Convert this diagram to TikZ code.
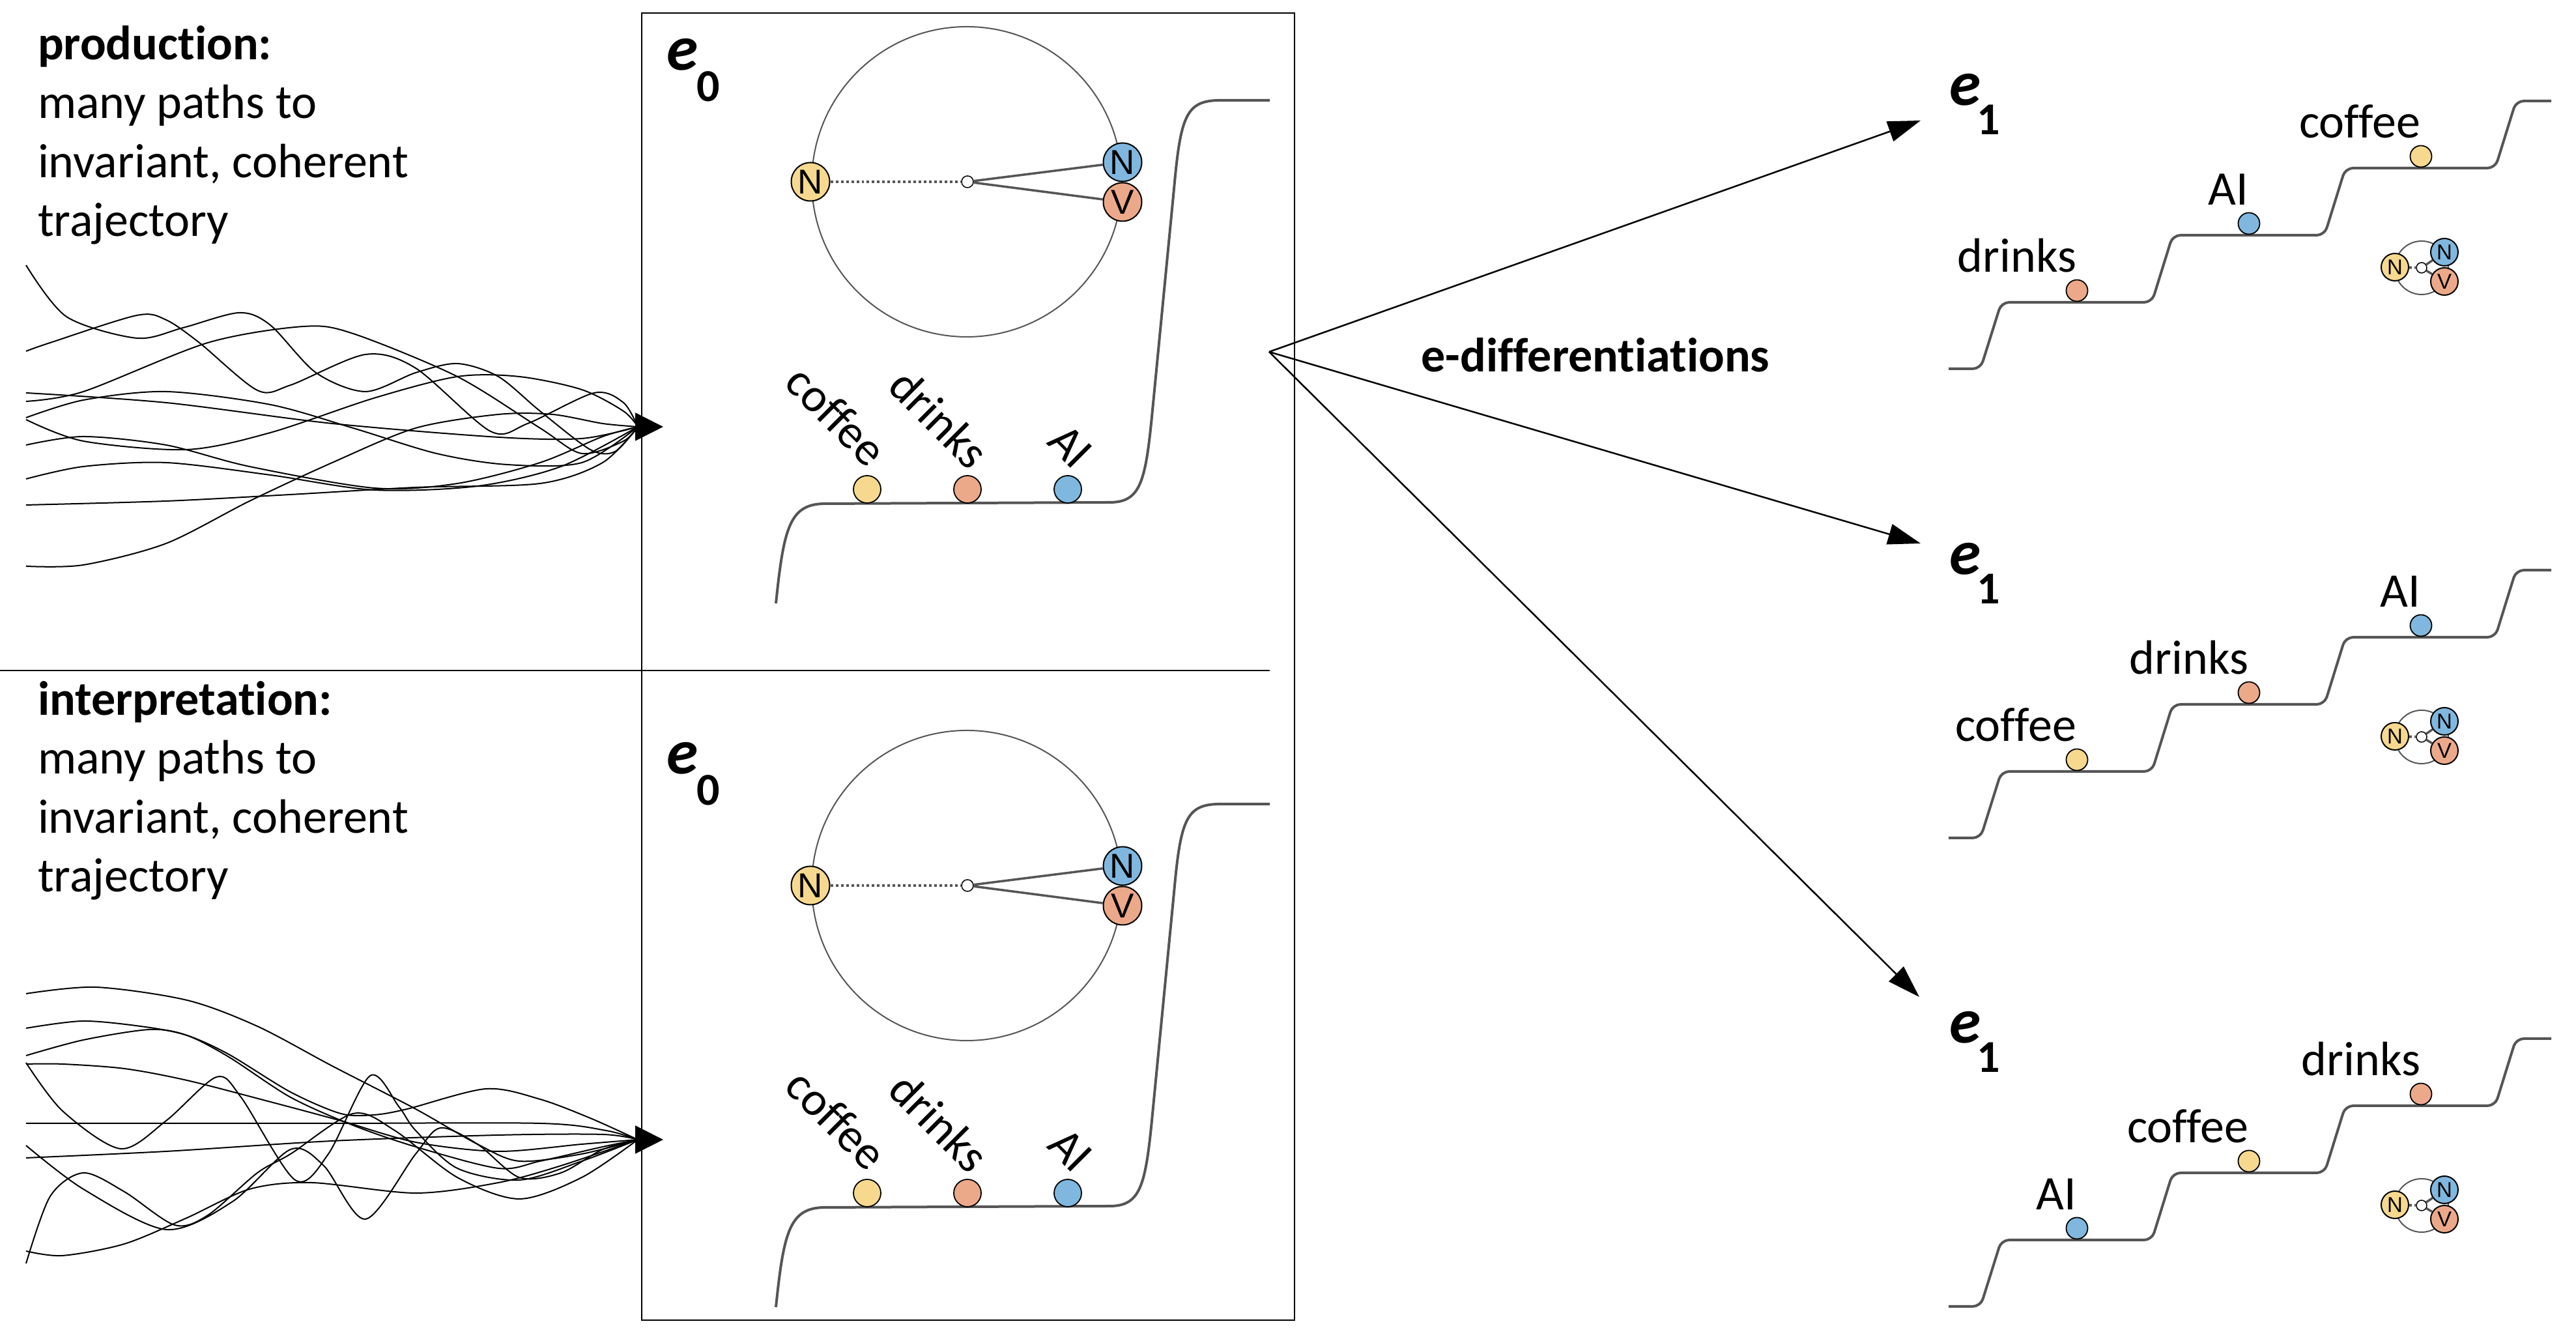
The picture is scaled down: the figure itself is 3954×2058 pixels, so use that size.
\documentclass[tikz,border=0pt]{standalone}
\usepackage{fontspec}
\setmainfont{Carlito}[Ligatures=NoCommon]
\newfontfamily\nvfont{Liberation Sans}
\usetikzlibrary{arrows.meta}
\definecolor{cy}{RGB}{246,217,142}
\definecolor{cb}{RGB}{127,183,222}
\definecolor{co}{RGB}{236,169,138}
\definecolor{lg}{RGB}{85,85,85}
\begin{document}
\begin{tikzpicture}[x=0.1pt,y=-0.1pt,
  traj/.style={line width=0.2pt, black},
  frame/.style={line width=0.2pt, black},
  curveline/.style={line width=0.4pt, lg},
  ring/.style={line width=0.2pt, lg},
  ball/.style={circle, draw=black, line width=0.18pt, minimum size=4.2pt, inner sep=0pt},
  sball/.style={ball, minimum size=3.3pt},
  nv/.style={circle, draw=black, line width=0.2pt, minimum size=5.9pt, inner sep=0pt, font=\nvfont\fontsize{5.3}{6}\selectfont},
  snv/.style={nv, minimum size=4.2pt, font=\nvfont\fontsize{3.3}{4}\selectfont},
  hub/.style={circle, draw=black, fill=white, line width=0.15pt, minimum size=1.8pt, inner sep=0pt},
  link/.style={line width=0.35pt, lg},
  dotlink/.style={line width=0.35pt, lg, dash pattern=on 0.4pt off 0.4pt},
  lbl/.style={font=\fontsize{7.4}{9.05}\selectfont, inner sep=0pt},
  rlbl/.style={font=\fontsize{7.3}{8}\selectfont, inner sep=0pt, rotate=-45},
  ee/.style={font=\fontsize{9.8}{10}\selectfont\bfseries\itshape, inner sep=0pt, anchor=base west},
  esub/.style={font=\fontsize{7}{8}\selectfont\bfseries, inner sep=0pt, anchor=base west},
  arr/.style={line width=0.25pt, -{Triangle[length=5pt,width=3.2pt]}},
  conv/.style={line width=0.2pt, -{Triangle[length=4.3pt,width=4.3pt]}},
]
\path[use as bounding box] (0,0) rectangle (3954,2058);

% frame and divider
\draw[frame] (985,20) rectangle (1987,2026);
\draw[frame] (0,1029) -- (1949,1029);

% left texts (anchored at the baseline of the last line)
\node[lbl, anchor=base west, align=left] (prod) at (56,363) {\textbf{production:}\\many paths to\\invariant, coherent\\trajectory};
\node[lbl, anchor=base west, align=left] (interp) at (56,1369) {\textbf{interpretation:}\\many paths to\\invariant, coherent\\trajectory};

% production trajectories
\draw[traj] plot[smooth] coordinates {(40,407) (102,486) (210,519) (281,503) (367,480) (415,499) (485,572) (561,601) (638,572) (702,558) (765,578) (829,631) (906,690) (944,693) (979,655)};
\draw[traj] plot[smooth] coordinates {(40,539) (77,526) (210,484) (255,491) (306,526) (395,599) (446,591) (561,544) (638,565) (753,662) (810,650) (912,603) (957,618) (979,655)};
\draw[traj] plot[smooth] coordinates {(40,616) (128,601) (319,526) (466,501) (542,512) (702,578) (829,657) (893,696) (957,677) (979,655)};
\draw[traj] plot[smooth] coordinates {(40,603) (255,618) (510,650) (765,671) (893,673) (979,655)};
\draw[traj] plot[smooth] coordinates {(40,641) (128,614) (255,601) (415,621) (542,657) (670,696) (778,713) (893,710) (979,655)};
\draw[traj] plot[smooth] coordinates {(40,644) (128,677) (287,690) (415,664) (574,611) (702,578) (797,578) (893,598) (957,631) (979,655)};
\draw[traj] plot[smooth] coordinates {(40,683) (128,670) (255,683) (383,716) (574,749) (702,742) (829,710) (925,670) (979,655)};
\draw[traj] plot[smooth] coordinates {(40,735) (128,716) (255,710) (415,729) (574,752) (733,746) (861,716) (979,655)};
\draw[traj] plot[smooth] coordinates {(40,775) (255,769) (446,759) (638,748) (829,742) (925,710) (979,655)};
\draw[traj] plot[smooth] coordinates {(40,869) (128,867) (255,834) (383,769) (510,710) (638,657) (765,636) (848,636) (925,650) (979,655)};

% interpretation trajectories
\draw[traj] plot[smooth] coordinates {(40,1525) (147,1515) (287,1535) (395,1575) (510,1636) (638,1702) (733,1756) (797,1782) (893,1771) (979,1749)};
\draw[traj] plot[smooth] coordinates {(40,1578) (128,1567) (223,1576) (287,1589) (351,1618) (446,1676) (523,1709) (574,1711) (625,1702) (746,1671) (829,1687) (906,1716) (979,1749)};
\draw[traj] plot[smooth] coordinates {(40,1620) (128,1596) (230,1580) (287,1589) (351,1622) (446,1684) (542,1727) (638,1760) (765,1793) (829,1782) (925,1760) (979,1749)};
\draw[traj] plot[smooth] coordinates {(40,1633) (96,1633) (191,1640) (287,1658) (415,1691) (523,1720) (638,1753) (765,1767) (893,1756) (979,1749)};
\draw[traj] plot[smooth] coordinates {(40,1631) (96,1705) (185,1763) (255,1720) (332,1653) (370,1684) (453,1811) (504,1771) (568,1651) (612,1698) (638,1735) (702,1793) (797,1811) (893,1782) (979,1749)};
\draw[traj] plot[smooth] coordinates {(40,1724) (500,1724) (829,1724) (930,1735) (979,1749)};
\draw[traj] plot[smooth] coordinates {(40,1758) (128,1825) (255,1887) (357,1844) (446,1764) (497,1789) (561,1871) (638,1771) (676,1731) (733,1756) (797,1807) (861,1800) (925,1764) (979,1749)};
\draw[traj] plot[smooth] coordinates {(40,1777) (255,1767) (510,1751) (765,1742) (925,1741) (979,1749)};
\draw[traj] plot[smooth] coordinates {(40,1920) (96,1927) (191,1909) (287,1869) (383,1825) (478,1815) (638,1831) (765,1815) (861,1789) (979,1749)};
\draw[traj] plot[smooth] coordinates {(40,1939) (77,1836) (128,1800) (191,1829) (268,1880) (319,1865) (395,1800) (446,1771) (542,1709) (606,1735) (702,1807) (797,1840) (893,1807) (979,1749)};

% convergence arrows
\coordinate (P1) at (977,655);
\coordinate (Q1) at (1018,655);
\coordinate (P2) at (977,1749);
\coordinate (Q2) at (1018,1749);
\draw[conv] (P1) -- (Q1);
\draw[conv] (P2) -- (Q2);

% e0 panels
\foreach \dy/\s in {0/a,1080/b}{
 \begin{scope}[shift={(0,\dy)}]
   \node[ee] (e\s) at (1021,108) {e};
   \node[esub] (z\s) at (1067,156) {0};
   \draw[ring] (1484,279) circle[radius=238];
   \node[hub] (h\s) at (1485,279) {};
   \node[nv, fill=cy] (ny\s) at (1244,279) {N};
   \node[nv, fill=cb] (nb\s) at (1723,249) {N};
   \node[nv, fill=co] (nv\s) at (1723,310) {V};
   \draw[dotlink] (ny\s) -- (h\s);
   \draw[link] (h\s) -- (nb\s);
   \draw[link] (h\s) -- (nv\s);
   \draw[curveline] (1191,926) .. controls (1203,810) and (1212,774) .. (1265,773) -- (1705,771) .. controls (1750,770) and (1758,740) .. (1768,640) -- (1802,290) .. controls (1812,180) and (1820,155) .. (1870,154) -- (1949,154);
   \node[ball, fill=cy] (bc\s) at (1331,751) {};
   \node[ball, fill=co] (bd\s) at (1485,751) {};
   \node[ball, fill=cb] (ba\s) at (1639,751) {};
   \node[rlbl] (lc\s) at (1284,638) {coffee};
   \node[rlbl] (ld\s) at (1442,642) {drinks};
   \node[rlbl] (la\s) at (1643,685) {AI};
 \end{scope}}

% fork arrows
\coordinate (F) at (1948,540);
\coordinate (T1) at (2948,185);
\coordinate (T2) at (2948,834);
\coordinate (T3) at (2946,1530);
\draw[arr] (F) -- (T1);
\draw[arr] (F) -- (T2);
\draw[arr] (F) -- (T3);
\node[font=\fontsize{7.4}{8}\selectfont\bfseries, inner sep=0pt, anchor=base] (ed) at (2449,571) {e-differentiations};

% e1 panels
\foreach \dy/\s/\fa/\fb/\fc/\ta/\tb/\tc in {0/a/co/cb/cy/drinks/AI/coffee, 720/b/cy/co/cb/coffee/drinks/AI, 1439/c/cb/cy/co/AI/coffee/drinks}{
 \begin{scope}[shift={(0,\dy)}]
  \node[ee] (f\s) at (2990,162) {e};
  \node[esub] (o\s) at (3032,207) {1};
  \draw[curveline, rounded corners=1.2pt] (2991,566) -- (3040,566) -- (3072,464) -- (3303,464) -- (3335,361) -- (3568,361) -- (3600,258) -- (3830,258) -- (3862,155) -- (3916,155);
  \node[sball, fill=\fa] (sa\s) at (3188,446) {};
  \node[sball, fill=\fb] (sb\s) at (3452,343) {};
  \node[sball, fill=\fc] (sc\s) at (3716,240) {};
  \node[lbl, anchor=base east] (ta\s) at (3189,418) {\ta};
  \node[lbl, anchor=base east] (tb\s) at (3453,315) {\tb};
  \node[lbl, anchor=base east] (tc\s) at (3717,212) {\tc};
  \draw[ring] (3717,411) circle[radius=41];
  \node[hub, minimum size=1.6pt] (mh\s) at (3717,411) {};
  \node[snv, fill=cy] (my\s) at (3676,410) {N};
  \node[snv, fill=cb] (mb\s) at (3752,387) {N};
  \node[snv, fill=co] (mv\s) at (3752,432) {V};
  \draw[dotlink, line width=0.4pt] (my\s) -- (mh\s);
  \draw[link] (mh\s) -- (mb\s);
  \draw[link] (mh\s) -- (mv\s);
 \end{scope}}
\end{tikzpicture}
\end{document}
